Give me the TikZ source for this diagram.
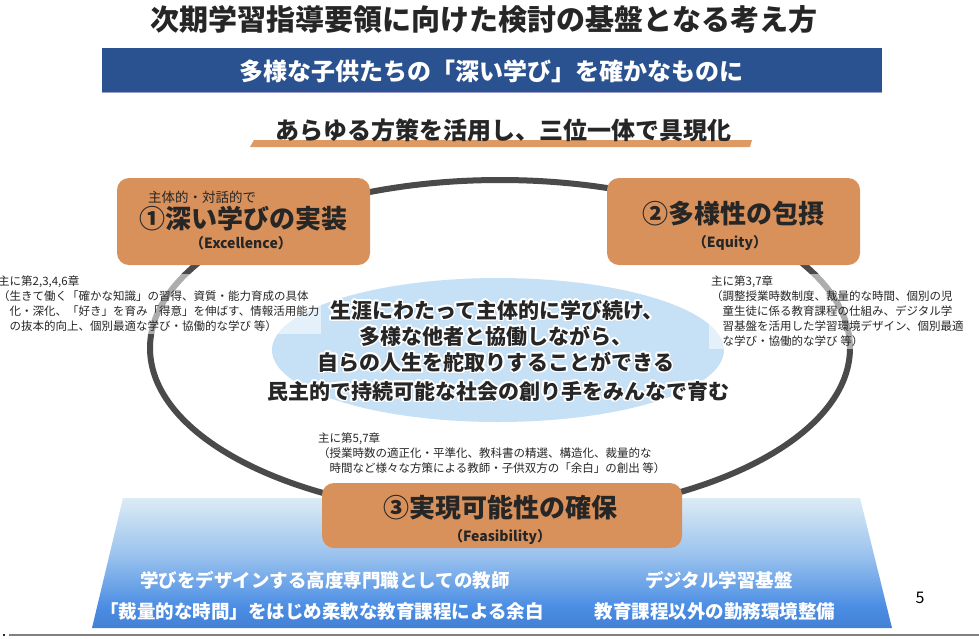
\documentclass[tikz,border=0pt]{standalone}
\usepackage{fontspec}
\setmainfont{Noto Sans CJK JP}
\usepackage[copies]{contour}
\contourlength{1.6pt}
\usetikzlibrary{positioning,calc}
\definecolor{boxorange}{HTML}{D9915C}
\definecolor{ringgray}{HTML}{4A4A4A}
\definecolor{bannerblue}{HTML}{2B5290}
\definecolor{centerblue}{HTML}{C6E0F6}
\definecolor{inkdark}{HTML}{262626}
\definecolor{lineorange}{HTML}{DE9A62}
\definecolor{baseA}{HTML}{E2EFF5}
\definecolor{baseB}{HTML}{9AC2EE}
\definecolor{baseC}{HTML}{4A8DE3}
\definecolor{baseD}{HTML}{2E5AA5}
\pgfdeclareverticalshading{baseshade}{100bp}{color(0bp)=(baseD); color(33bp)=(baseC); color(53bp)=(baseB); color(77bp)=(baseA); color(100bp)=(white)}

\begin{document}
\begin{tikzpicture}[x=1pt, y=-1pt,
  pillar/.style={fill=boxorange, rounded corners=12pt, inner sep=0pt},
  pname/.style={font=\fontsize{26}{30}\selectfont\bfseries, text=inkdark},
  plabel/.style={font=\fontsize{14}{16}\selectfont\bfseries, text=inkdark},
  note/.style={font=\fontsize{11.5}{15}\selectfont, align=left, text=inkdark,
    fill=white, fill opacity=0.55, text opacity=1, inner sep=2pt},
  goal/.style={font=\fontsize{21}{25}\selectfont\bfseries, text=inkdark},
  basetext/.style={font=\fontsize{18.5}{22}\selectfont\bfseries, text=white}]
\useasboundingbox (0,0) rectangle (979,638);
% base of the three pillars
\shade[shading=baseshade] (123,498) -- (860,498) -- (892,628) -- (92,628) -- cycle;
% heading and banner
\node[font=\fontsize{29}{32}\selectfont\bfseries, text=inkdark] (title) at (484,20) {次期学習指導要領に向けた検討の基盤となる考え方};
\fill[bannerblue] (102,48) rectangle (882,92);
\draw[blue!30!gray!60, line width=1pt] (102,92) -- (882,92);
\node[font=\fontsize{24}{28}\selectfont\bfseries, text=white] (banner) at (491,71) {多様な子供たちの「深い学び」を確かなものに};
\fill[lineorange] (250,147) -- (254,140) -- (752,140) -- (750,147) -- cycle;
\node[font=\fontsize{24}{28}\selectfont\bfseries, text=inkdark] (sub) at (503,130) {あらゆる方策を活用し、三位一体で具現化};
% centre and ring
\fill[centerblue] (498,350) ellipse [x radius=226, y radius=72];
\draw[ringgray, line width=6pt] (500,348) ellipse [x radius=350, y radius=168];
% notes
\node[note, anchor=north west] (noteL) at (-4,274) {主に第2,3,4,6章\\（生きて働く「確かな知識」の習得、資質・能力育成の具体\\\hspace*{1em}化・深化、「好き」を育み「得意」を伸ばす、情報活用能力\\\hspace*{1em}の抜本的向上、個別最適な学び・協働的な学び 等）};
\node[note, anchor=north west] (noteR) at (709,274) {主に第3,7章\\（調整授業時数制度、裁量的な時間、個別の児\\\hspace*{1em}童生徒に係る教育課程の仕組み、デジタル学\\\hspace*{1em}習基盤を活用した学習環境デザイン、個別最適\\\hspace*{1em}な学び・協働的な学び 等）};
\node[note, anchor=north west] (noteB) at (316,431) {主に第5,7章\\（授業時数の適正化・平準化、教科書の精選、構造化、裁量的な\\\hspace*{1em}時間など様々な方策による教師・子供双方の「余白」の創出 等）};
% pillars
\node[pillar, minimum width=253pt, minimum height=87pt] (deep) at (243.5,221.5) {};
\node[font=\fontsize{13.5}{16}\selectfont, text=inkdark] (deepsub) at (202,197) {主体的・対話的で};
\node[pname] (deepname) at (243,219) {①深い学びの実装};
\node[plabel] (deeplab) at (241,243) {（Excellence）};
\node[pillar, minimum width=253pt, minimum height=87pt] (incl) at (733.5,221.5) {};
\node[pname] (inclname) at (733,214) {②多様性の包摂};
\node[plabel] (incllab) at (730,243) {（Equity）};
\node[pillar, minimum width=360pt, minimum height=65pt] (feas) at (502,515.5) {};
\node[pname] (feasname) at (500,508) {③実現可能性の確保};
\node[plabel] (feaslab) at (500,537) {（Feasibility）};
% goal text
\node[goal] (g1) at (497,311) {\contour{white}{生涯にわたって主体的に学び続け、}};
\node[goal] (g2) at (496,337) {\contour{white}{多様な他者と協働しながら、}};
\node[goal] (g3) at (496,363) {\contour{white}{自らの人生を舵取りすることができる}};
\node[goal] (g4) at (498,392) {\contour{white}{民主的で持続可能な社会の創り手をみんなで育む}};
% base texts
\node[basetext] (b1) at (325,580) {学びをデザインする高度専門職としての教師};
\node[basetext] (b2) at (719,580) {デジタル学習基盤};
\node[basetext] (b3) at (322,611) {「裁量的な時間」をはじめ柔軟な教育課程による余白};
\node[basetext] (b4) at (715,611) {教育課程以外の勤務環境整備};
% page number and rule
\node[font=\fontsize{16}{18}\selectfont] (page) at (920,598) {5};
\draw[gray, line width=2pt] (9,635) -- (979,635);
\fill[inkdark] (3,634) rectangle (5,636);
\end{tikzpicture}
\end{document}
